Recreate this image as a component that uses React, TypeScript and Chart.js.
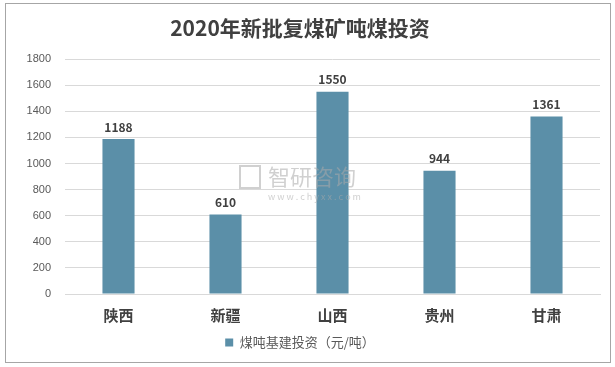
import React, { useEffect, useRef } from "react";
import { Chart, registerables } from "chart.js";

Chart.register(...registerables);

const title = "2020年新批复煤矿吨煤投资";
const categories = ["陕西", "新疆", "山西", "贵州", "甘肃"];
const values = [1188, 610, 1550, 944, 1361];
const seriesName = "煤吨基建投资（元/吨）";
const yMax = 1800;
const yStep = 200;

const CJK = '"Noto Sans CJK SC", "Noto Sans", sans-serif';

const framePlugin = {
  id: "frame",
  beforeDraw(chart: any) {
    const ctx = chart.ctx;
    ctx.save();
    ctx.fillStyle = "#ffffff";
    ctx.fillRect(0, 0, chart.width, chart.height);
    ctx.strokeStyle = "#a6a6a6";
    ctx.lineWidth = 1;
    ctx.strokeRect(5.5, 3.5, 605, 359);
    ctx.restore();
  },
  afterDatasetsDraw(chart: any) {
    const ctx = chart.ctx;
    const meta = chart.getDatasetMeta(0);
    ctx.save();
    ctx.font = "bold 12px " + CJK;
    ctx.fillStyle = "#404040";
    ctx.textAlign = "center";
    ctx.textBaseline = "bottom";
    meta.data.forEach((bar: any, i: number) => {
      ctx.fillText(String(chart.data.datasets[0].data[i]), bar.x, bar.y - 6);
    });
    // watermark
    ctx.fillStyle = "rgba(170,170,170,0.55)";
    ctx.textAlign = "left";
    ctx.textBaseline = "middle";
    ctx.font = "22px " + CJK;
    ctx.fillText("智研咨询", 268, 177);
    ctx.font = "9px " + CJK;
    ctx.fillText("w w w . c h y x x . c o m", 268, 197);
    ctx.strokeStyle = "rgba(170,170,170,0.55)";
    ctx.lineWidth = 2;
    ctx.strokeRect(240, 166, 20, 22);
    ctx.restore();
  },
};

export default function App() {
  const ref = useRef<HTMLCanvasElement>(null);
  useEffect(() => {
    if (!ref.current) return;
    const chart = new Chart(ref.current, {
      type: "bar",
      data: {
        labels: categories,
        datasets: [
          {
            label: seriesName,
            data: values,
            backgroundColor: "#5b8fa8",
            categoryPercentage: 1,
            barPercentage: 0.3,
          },
        ],
      },
      options: {
        animation: false,
        responsive: false,
        devicePixelRatio: 1,
        layout: { padding: { left: 0, right: 15, top: 0, bottom: 8 } },
        plugins: {
          title: {
            display: true,
            text: title,
            color: "#404040",
            font: { family: CJK, size: 21, weight: "bold" },
            padding: { top: 15, bottom: 19 },
          },
          legend: {
            display: true,
            position: "bottom",
            labels: {
              boxWidth: 8,
              boxHeight: 8,
              color: "#595959",
              font: { family: CJK, size: 13 },
              padding: 8,
            },
          },
          tooltip: { enabled: false },
        },
        scales: {
          x: {
            grid: { display: false },
            border: { color: "#d9d9d9" },
            ticks: {
              color: "#404040",
              font: { family: CJK, size: 15, weight: "bold" },
              padding: 4,
            },
          },
          y: {
            min: 0,
            max: yMax,
            afterFit(scale: any) {
              scale.width = 65;
            },
            grid: { color: "#d9d9d9", drawTicks: false },
            border: { display: false },
            ticks: {
              stepSize: yStep,
              color: "#595959",
              font: { family: '"Liberation Sans", sans-serif', size: 11 },
              padding: 14,
              callback: (v: any) => String(v),
            },
          },
        },
      },
      plugins: [framePlugin],
    });
    return () => chart.destroy();
  }, []);
  return (
    <div style={{ position: "fixed", left: 0, top: 0, width: 615, height: 367, background: "#fff" }}>
      <canvas ref={ref} width={615} height={367} style={{ display: "block" }} />
    </div>
  );
}
